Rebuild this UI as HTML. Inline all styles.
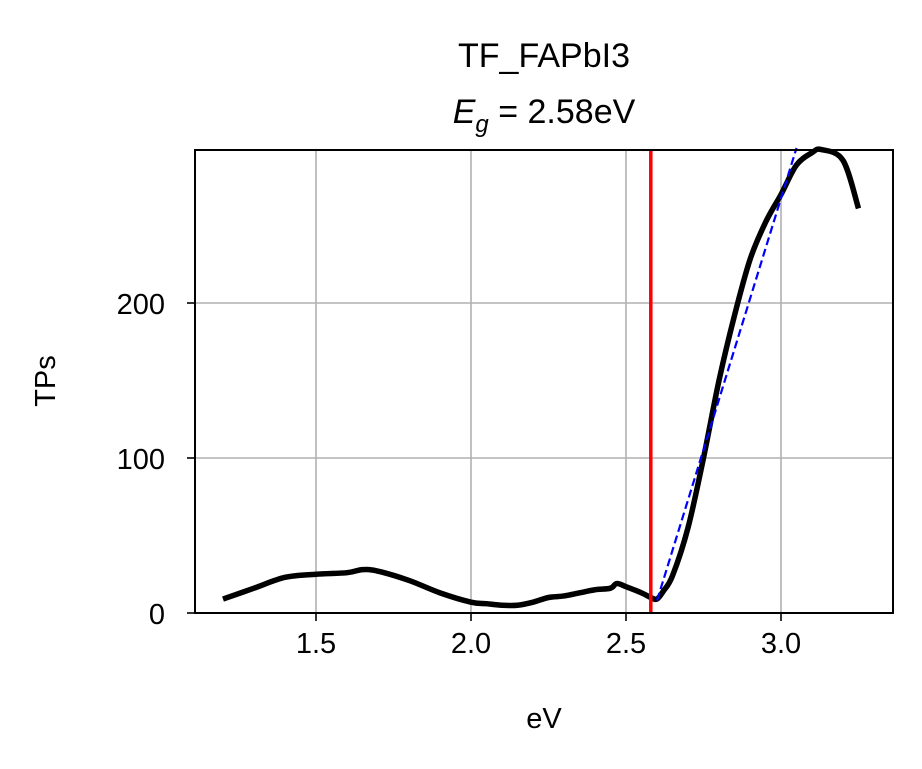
<!DOCTYPE html>
<html><head><meta charset="utf-8"><style>
body{margin:0;background:#fff}
svg{display:block;font-family:"Liberation Sans","DejaVu Sans",sans-serif}
</style></head><body>
<svg id="chart" width="922" height="769">
<rect width="922" height="769" fill="#fff"/>
<g id="grid"></g>
<g id="series"></g>
<rect x="195" y="150" width="698" height="463" fill="none" stroke="#000" stroke-width="2"/>
<g id="ticks"></g>
<text x="544" y="67" font-size="34" text-anchor="middle">TF_FAPbI3</text>
<text x="544" y="123" font-size="34" text-anchor="middle"><tspan font-style="italic">E</tspan><tspan font-style="italic" font-size="24" dy="9">g</tspan><tspan dy="-9"> = 2.58eV</tspan></text>
<text x="544" y="728" font-size="29" text-anchor="middle">eV</text>
<text x="55" y="381" font-size="29" text-anchor="middle" transform="rotate(-90 55 381)">TPs</text>
</svg>
<script>
const xTicks=[1.5,2.0,2.5,3.0];
const xTickLabels=["1.5","2.0","2.5","3.0"];
const yTicks=[0,100,200];
const yTickLabels=["0","100","200"];
const ev=[1.2,1.3,1.4,1.5,1.6,1.65,1.7,1.8,1.9,2.0,2.05,2.1,2.15,2.2,2.25,2.3,2.35,2.4,2.45,2.47,2.5,2.55,2.58,2.6,2.62,2.65,2.7,2.75,2.8,2.85,2.9,2.95,3.0,3.05,3.1,3.13,3.2,3.25];
const tps=[9,16,23,25,26,28,27,21,13,7,6,5,5,7,10,11,13,15,16,19,17,13,10,9,14,24,55,100,150,192,228,252,270,289,297,299,292,261];
const gapEv=[2.58];
const fitEv=[2.6,3.05];
const fitTps=[8,300];
const sx=v=>316+(v-1.5)*310;
const sy=v=>613-v*1.55;
const NS="http://www.w3.org/2000/svg";
function mk(tag,attrs,parent){const e=document.createElementNS(NS,tag);for(const k in attrs)e.setAttribute(k,attrs[k]);document.getElementById(parent).appendChild(e);return e;}
xTicks.forEach((t,i)=>{
 const g=mk("line",{x1:sx(t),x2:sx(t),y1:150,y2:613,stroke:"#b0b0b0","stroke-width":1.6},"grid");
 
 
 const k=mk("line",{x1:sx(t),x2:sx(t),y1:613,y2:621,stroke:"#000","stroke-width":1.6},"ticks");
 
 
 const l=mk("text",{x:sx(t),y:653,"font-size":29,"text-anchor":"middle"},"ticks");l.textContent=xTickLabels[i];
 
 
});
yTicks.forEach((t,i)=>{
 const g=mk("line",{x1:195,x2:893,y1:sy(t),y2:sy(t),stroke:"#b0b0b0","stroke-width":1.6},"grid");
 
 
 const k=mk("line",{x1:187,x2:195,y1:sy(t),y2:sy(t),stroke:"#000","stroke-width":1.6},"ticks");
 
 
 const l=mk("text",{x:165,y:sy(t)+11,"font-size":29,"text-anchor":"end"},"ticks");l.textContent=yTickLabels[i];
 
 
});
const P=ev.map((v,i)=>[sx(v),sy(tps[i])]);
let d="M"+P[0][0]+","+P[0][1];
for(let i=0;i<P.length-1;i++){
 const p0=P[Math.max(0,i-1)],p1=P[i],p2=P[i+1],p3=P[Math.min(P.length-1,i+2)];
 d+=" C"+(p1[0]+(p2[0]-p0[0])/6)+","+(p1[1]+(p2[1]-p0[1])/6)+" "+(p2[0]-(p3[0]-p1[0])/6)+","+(p2[1]-(p3[1]-p1[1])/6)+" "+p2[0]+","+p2[1];
}
const line=mk("path",{d:d,fill:"none",stroke:"#000","stroke-width":5.5,"stroke-linejoin":"round"},"series");


const red=mk("line",{x1:sx(gapEv[0]),x2:sx(gapEv[0]),y1:150,y2:613,stroke:"#ff0000","stroke-width":3.5},"series");


const fit=mk("line",{x1:sx(fitEv[0]),y1:sy(fitTps[0]),x2:sx(fitEv[1]),y2:sy(fitTps[1]),stroke:"#0000ff","stroke-width":2.2,"stroke-dasharray":"8,4"},"series");


</script>
</body></html>
